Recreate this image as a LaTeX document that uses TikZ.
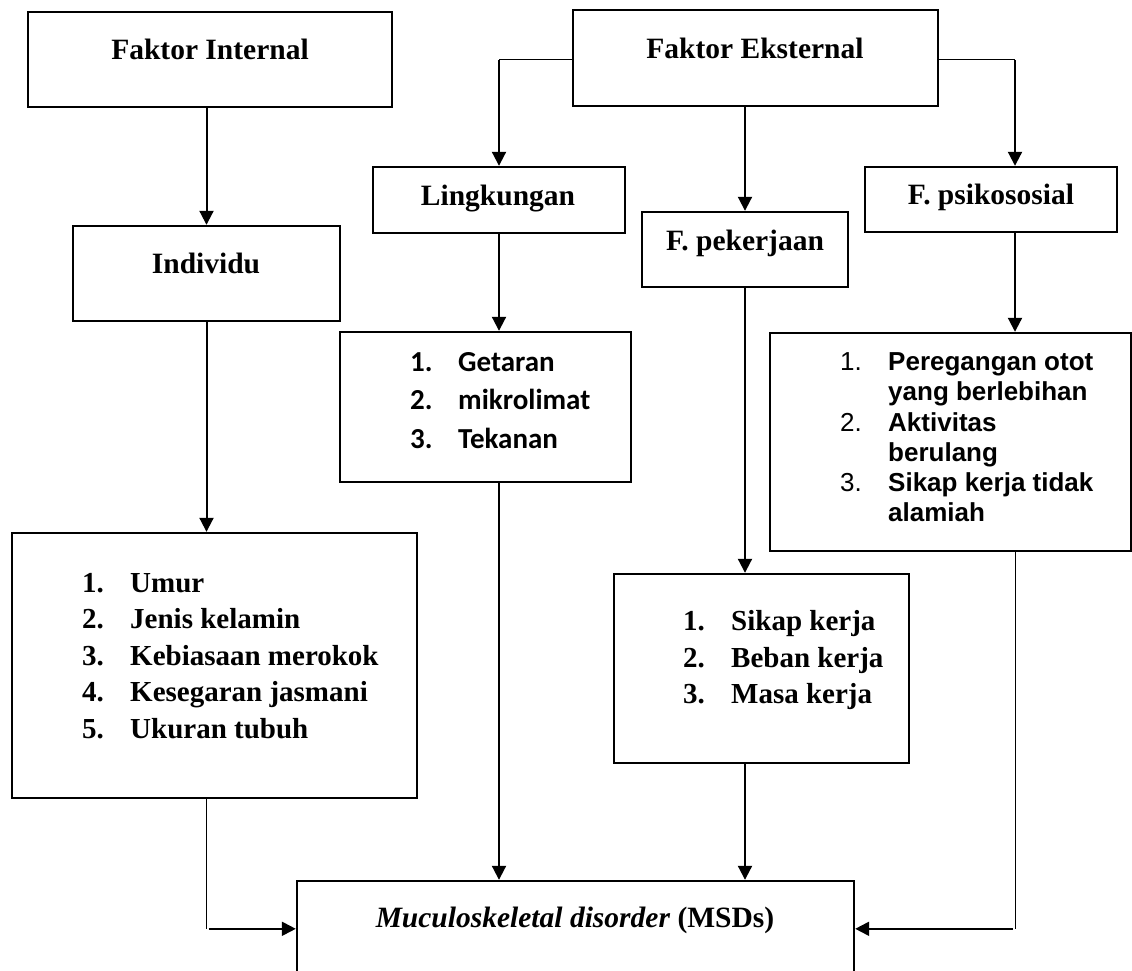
\documentclass[tikz,border=0pt]{standalone}
\usepackage{fontspec}
\setmainfont{Liberation Serif}
\newfontfamily\calibrif{Carlito}
\newfontfamily\arialf{Liberation Sans}
\usetikzlibrary{arrows.meta,calc}
\newcommand\bx[5]{\node[box,minimum width={#4-#2},minimum height={#5-#3}] (#1) at ({(#2+#4)/2},{(#3+#5)/2}) {};}
\begin{document}
\begin{tikzpicture}[x=1pt,y=-1pt,
  box/.style={draw,line width=2.4pt,inner sep=0pt},
  ttl/.style={font=\fontsize{29.5}{34}\selectfont\bfseries,anchor=base,inner sep=0pt},
  itm/.style={font=\fontsize{29}{34}\selectfont\bfseries,anchor=base west,inner sep=0pt},
  citm/.style={font=\calibrif\fontsize{29}{34}\selectfont\bfseries,anchor=base west,inner sep=0pt},
  anum/.style={font=\arialf\fontsize{26}{30}\selectfont,anchor=base west,inner sep=0pt},
  aitm/.style={font=\arialf\fontsize{26}{30}\selectfont\bfseries,anchor=base west,inner sep=0pt},
  arr/.style={line width=2pt,-{Triangle[width=14pt,length=14pt]}},
  thinln/.style={line width=1pt},
]
\useasboundingbox (0,0) rectangle (1132,970);
\fill[white] (0,0) rectangle (1132,970);
\clip (0,0) rectangle (1132,970);

% boxes
\bx{FI}{28}{12}{392}{107}
\bx{FE}{573}{10}{938}{106}
\bx{Ind}{73}{226}{340}{321}
\bx{L}{373}{167}{625}{233}
\bx{Pk}{642}{212}{848}{287}
\bx{P}{865}{167}{1117}{232}
\bx{LK}{340}{332}{631}{482}
\bx{PL}{770}{333}{1131}{551}
\bx{LL}{12}{533}{417}{798}
\bx{PkL}{614}{574}{909}{763}
\bx{M}{297}{881}{854}{1000}

% titles
\node[ttl] (tFI) at (210,59) {Faktor Internal};
\node[ttl] (tFE) at (755,58) {Faktor Eksternal};
\node[ttl] (tInd) at (206,273) {Individu};
\node[ttl] (tL) at (498,205) {Lingkungan};
\node[ttl] (tPk) at (745,250) {F. pekerjaan};
\node[ttl] (tP) at (991,204) {F. psikososial};
\node[ttl] (tM) at (575,927) {\textit{Muculoskeletal disorder} (MSDs)};

% left list
\foreach \n/\t/\y in {1/Umur/592,2/Jenis kelamin/628.5,3/Kebiasaan merokok/665,4/Kesegaran jasmani/701.5,5/Ukuran tubuh/738}{
  \node[itm] (lln\n) at (82,\y) {\n.};
  \node[itm] (llt\n) at (130,\y) {\t};
}
% pekerjaan list
\foreach \n/\t/\y in {1/Sikap kerja/630,2/Beban kerja/667,3/Masa kerja/703}{
  \node[itm] (pkn\n) at (683,\y) {\n.};
  \node[itm] (pkt\n) at (731,\y) {\t};
}
% lingkungan list
\foreach \n/\t/\y in {1/Getaran/371,2/mikrolimat/409.5,3/Tekanan/448}{
  \node[citm] (lkn\n) at (410,\y) {\n.};
  \node[citm] (lkt\n) at (458,\y) {\t};
}
% psikososial list
\node[anum] (psn1) at (840,370) {1.};
\node[aitm] (pst1) at (888,370) {Peregangan otot};
\node[aitm] (pst1b) at (888,400) {yang berlebihan};
\node[anum] (psn2) at (840,431) {2.};
\node[aitm] (pst2) at (888,431) {Aktivitas};
\node[aitm] (pst2b) at (888,461) {berulang};
\node[anum] (psn3) at (840,491) {3.};
\node[aitm] (pst3) at (888,491) {Sikap kerja tidak};
\node[aitm] (pst3b) at (888,521) {alamiah};

% helper coordinates
\coordinate (fel) at ($(FE.north west)+(0,51)$);
\coordinate (fer) at ($(FE.north east)+(0,51)$);
\coordinate (px) at ([xshift=24pt]P.north);
\coordinate (pxs) at ([xshift=24pt]P.south);
\coordinate (hy) at ($(M.north)+(0,49)$);

% connectors
\draw[arr] (Ind.north |- FI.south) -- (Ind.north);
\draw[arr] (Ind.south) -- (Ind.south |- LL.north);
\draw[thinln] (fel) -- (fel -| L.north);
\draw[arr] (fel -| L.north) -- (L.north);
\draw[arr] (Pk.north |- FE.south) -- (Pk.north);
\draw[thinln] (fer) -- (fer -| px);
\draw[arr] (fer -| px) -- (px);
\draw[arr] (L.south) -- (L.south |- LK.north);
\draw[arr] (Pk.south) -- (Pk.south |- PkL.north);
\draw[arr] (pxs) -- (pxs |- PL.north);
\draw[arr] (L.south |- LK.south) -- (L.south |- M.north);
\draw[arr] (Pk.south |- PkL.south) -- (Pk.south |- M.north);
\draw[thinln] (Ind.south |- LL.south) -- (Ind.south |- hy);
\draw[arr] ([xshift=2pt]Ind.south |- hy) -- (M.west |- hy);
\draw[thinln] (pxs |- PL.south) -- (pxs |- hy);
\draw[arr] ([xshift=-2pt]pxs |- hy) -- (M.east |- hy);
\end{tikzpicture}
\end{document}
